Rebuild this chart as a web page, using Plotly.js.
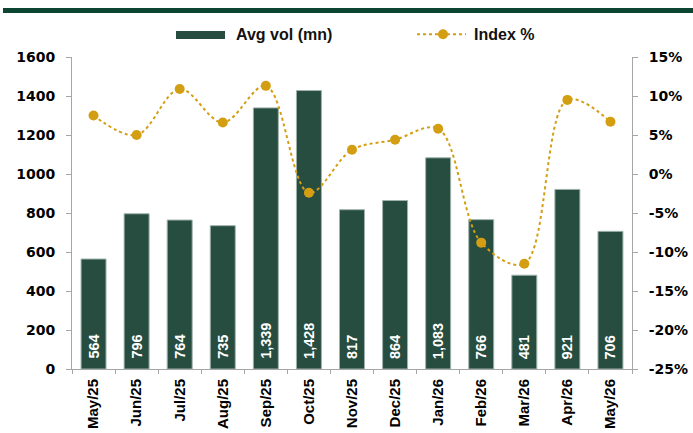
<!DOCTYPE html>
<html>
<head>
<meta charset="utf-8">
<script src="https://cdn.plot.ly/plotly-3.0.1.min.js"></script>
<style>html,body{margin:0;padding:0;background:#fff;}#chart{width:693px;height:433px;}</style>
</head>
<body>
<div id="chart"></div>
<script>
const months = ["May/25","Jun/25","Jul/25","Aug/25","Sep/25","Oct/25","Nov/25","Dec/25","Jan/26","Feb/26","Mar/26","Apr/26","May/26"];
const avgVol = [564, 796, 764, 735, 1339, 1428, 817, 864, 1083, 766, 481, 921, 706];
const indexPct = [7.5, 5.0, 10.9, 6.6, 11.3, -2.4, 3.1, 4.4, 5.8, -8.8, -11.5, 9.5, 6.7];
const volTicks = [0, 200, 400, 600, 800, 1000, 1200, 1400, 1600];
const pctTicks = [-25, -20, -15, -10, -5, 0, 5, 10, 15];

const W = 693, H = 433;
const mL = 72, mR = 61, mT = 57, mB = 64;
const pw = W - mL - mR, ph = H - mT - mB;
const px = x => (x - mL) / pw;
const py = y => (H - mB - y) / ph;

const barColor = '#274d40';
const gold = '#d49e12';

const traces = [
  {
    type: 'bar', x: months, y: avgVol, name: 'Avg vol (mn)',
    marker: {color: barColor, line: {color: '#9fb3aa', width: 1}},
    width: 0.58,
    showlegend: false, hoverinfo: 'skip'
  },
  {
    type: 'scatter', mode: 'lines+markers', x: months, y: indexPct, yaxis: 'y2', name: 'Index %',
    line: {color: gold, width: 2, dash: 'dot', shape: 'spline', smoothing: 1},
    marker: {color: gold, size: 10},
    showlegend: false, hoverinfo: 'skip', cliponaxis: false
  }
];

const tickFontY = {family: 'DejaVu Sans, sans-serif', size: 14, color: '#000', weight: 'bold'};
const tickFontX = {family: 'Liberation Sans, Arial, sans-serif', size: 15, color: '#000', weight: 'bold'};
const legendFont = {family: 'Liberation Sans, Arial, sans-serif', size: 16, color: '#111', weight: 'bold'};
const fmt = v => v.toLocaleString('en-US');

const valueLabels = months.map((m, i) => ({
  xref: 'x', yref: 'y', x: m, y: 0, yanchor: 'bottom', xanchor: 'center',
  yshift: 8, textangle: -90, showarrow: false, text: fmt(avgVol[i]),
  font: {family: 'Liberation Sans, Arial, sans-serif', size: 14.5, color: '#ffffff', weight: 'bold'}
}));

const layout = {
  width: W, height: H,
  margin: {l: mL, r: mR, t: mT, b: mB, pad: 0},
  paper_bgcolor: '#fff', plot_bgcolor: '#fff',
  xaxis: {
    type: 'category', range: [-0.5, 12.5], tickangle: -90, tickfont: tickFontX,
    showline: true, linecolor: '#a6a6a6', linewidth: 1,
    ticks: 'outside', tickson: 'boundaries', ticklen: 4, tickcolor: '#a6a6a6',
    showgrid: false, zeroline: false, automargin: false, ticklabelstandoff: 3
  },
  yaxis: {
    range: [0, 1600], tickvals: volTicks, tickfont: tickFontY,
    showline: true, linecolor: '#a6a6a6', linewidth: 1,
    ticks: 'outside', ticklen: 5, tickcolor: '#a6a6a6',
    showgrid: false, zeroline: false, automargin: false, ticklabelstandoff: 8
  },
  yaxis2: {
    overlaying: 'y', side: 'right', range: [-25, 15], tickvals: pctTicks,
    ticktext: pctTicks.map(v => v + '%'), tickfont: tickFontY,
    showline: true, linecolor: '#a6a6a6', linewidth: 1,
    ticks: 'outside', ticklen: 5, tickcolor: '#a6a6a6',
    showgrid: false, zeroline: false, automargin: false, ticklabelstandoff: 8
  },
  shapes: [
    {type: 'rect', xref: 'paper', yref: 'paper', x0: px(3), x1: px(W), y0: py(13), y1: py(8),
     fillcolor: '#0c4532', line: {width: 0}},
    {type: 'rect', xref: 'paper', yref: 'paper', x0: px(176), x1: px(225), y0: py(39), y1: py(31),
     fillcolor: barColor, line: {width: 0}},
    {type: 'line', xref: 'paper', yref: 'paper', x0: px(417), x1: px(466), y0: py(34.3), y1: py(34.3),
     line: {color: gold, width: 2, dash: 'dot'}},
    {type: 'circle', xref: 'paper', yref: 'paper', x0: px(438), x1: px(448), y0: py(39.3), y1: py(29.3),
     fillcolor: gold, line: {width: 0}}
  ],
  annotations: [
    {xref: 'paper', yref: 'paper', x: px(234), y: py(34.5), xanchor: 'left', yanchor: 'middle',
     text: 'Avg vol (mn)', showarrow: false, font: legendFont},
    {xref: 'paper', yref: 'paper', x: px(472), y: py(34.5), xanchor: 'left', yanchor: 'middle',
     text: 'Index %', showarrow: false, font: legendFont}
  ].concat(valueLabels),
  showlegend: false
};

Plotly.newPlot('chart', traces, layout, {staticPlot: true, displayModeBar: false});
</script>
</body>
</html>
